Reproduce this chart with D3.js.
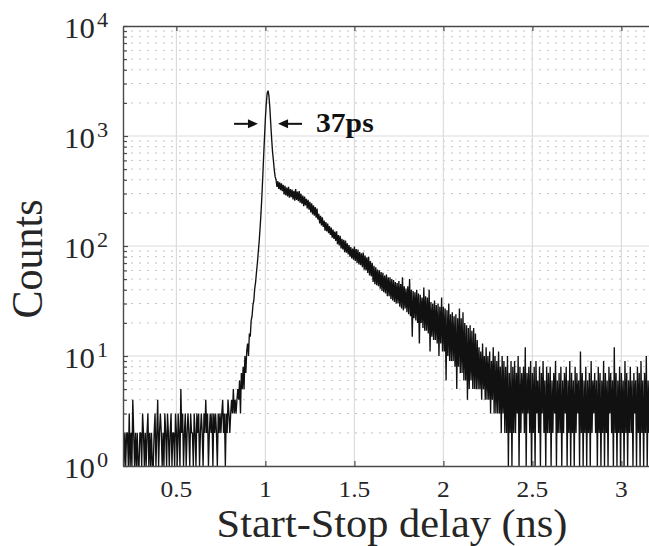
<!DOCTYPE html>
<html><head><meta charset="utf-8">
<script src="https://cdn.jsdelivr.net/npm/d3@7"></script>
<style>body{margin:0;background:#fff}svg{display:block}</style>
</head><body><svg id="c" width="649" height="546"></svg>
<script>
// ---- data (histogram counts, 5 ps bins starting at 0.2 ns) ----
const binStart = 0.2;
const binWidth = 0.005;
const countsBaseline = [
 2,1,2,1,2,2,1,3,1,2,
 1,4,2,1,2,1,2,1,1,2,
 2,1,3,2,1,2,1,2,3,1,
 2,1,2,1,1,2,3,1,2,4,
 1,2,3,2,1,2,1,3,2,1,
 3,2,1,2,3,1,2,2,1,3,
 2,1,3,2,1,5,2,3,1,2,
 3,1,2,3,2,1,3,2,2,1,
 3,2,1,3,2,3,1,2,3,2,
 1,3,2,4,2,3,1,2,3,2,
 3,1,3,2,3,2,1,3,2,3,
 2,3,4,2,3,1,3,2,4,3,
 2,3,4,3,5,3,4,3,4,5
];
const countsRise = [
 4,6,3,7,5,8,5,10,7,11,
 13,10,16,15,21,23,29,32,41,47,
 58,70,88,110,145,195,280,420,650,980,
 1450,1980,2450,2580,2300,1800,1300,950,720,600
];
const countsShoulder = [
 490,425,398,345,388,330,380,322,372,315,
 360,295,352,288,340,282,345,275,330,278,
 326,265,318,258,330,262,312,255,316,248,
 298,242,287,230,281,234,268,220,263,214,
 252,202,245,194,234,189,226,181,219,174,
 196,160,188,154,182,149,170,138,165,136,
 160,131,152,126,147,119,141,116,135,111,
 136,104,126,101,124,95,116,93,114,88,
 112,87,106,84,102,80,98,77,95,75
];
const countsDecay = [
 99,73,94,70,93,68,88,67,86,64,
 87,61,82,60,79,57,80,54,73,53,
 70,47,66,45,64,44,61,43,60,41,
 58,39,57,38,54,37,55,35,52,35,
 52,33,50,32,49,31,47,30,46,30,
 48,28,45,27,52,26,43,27,41,25,
 43,24,50,23,40,15,39,22,38,21,
 40,20,37,13,36,20,34,18,42,17,
 35,17,34,16,40,11,31,15,30,14,
 32,14,29,13,30,10,28,13,34,11,
 28,11,27,6,26,10,30,9,24,9,
 25,9,23,8,24,5,22,8,27,7,
 22,7,25,6,20,6,19,4,18,5,
 19,6,17,5,18,5,16,5,14,5
];
const countsTail = [
 12,5,11,4,13,5,10,4,12,4,
 10,4,11,3,9,4,12,3,10,3,
 9,3,11,3,8,2,10,3,9,2,
 8,2,10,1,7,2,9,1,8,2,
 9,2,7,3,10,1,8,2,7,3,
 8,2,12,1,7,3,8,2,9,1,
 7,2,8,1,9,3,6,2,8,1,
 7,3,9,2,6,1,8,2,7,2,
 8,1,6,2,7,3,9,1,6,2,
 7,2,8,1,6,2,7,3,8,1,
 6,2,9,1,7,2,6,1,8,2,
 7,3,6,1,11,2,7,1,6,2,
 8,1,6,2,7,1,9,2,6,3,
 7,2,6,1,8,2,7,1,6,2,
 9,1,7,2,6,1,8,3,7,2,
 6,1,12,2,7,1,6,2,8,1,
 7,2,6,1,9,2,7,1,6,2,
 8,2,6,1,7,3,6,1,8,2,
 7,1,9,2,6,1,7,2,10,1,
 6,2,8,1,7,2,11,1,6,2
];
const xTicks = [0.5, 1, 1.5, 2, 2.5, 3];
const xTickLabels = ["0.5", "1", "1.5", "2", "2.5", "3"];
const yDecadeExps = [0, 1, 2, 3, 4];
const xDomain = [0.2, 3.2];
const yDomain = [1, 1e4];
// annotation (data units)
const halfMax = 1290;
const arrowLeft = [0.824, 0.958];
const arrowRight = [1.206, 1.071];
const fwhmLabelX = 1.284;
const fwhmLabel = "37ps";
const xLabel = "Start-Stop delay (ns)";
const yLabel = "Counts";

// ---- drawing ----
const counts = [].concat(countsBaseline, countsRise, countsShoulder, countsDecay, countsTail);
const data = counts.map((c, i) => ({t: binStart + i * binWidth, c}));

const M = {left: 123, top: 26, bottom: 466, right: 657};
const SX = 1.06;
const FONT = "'Liberation Serif','Times New Roman',serif";
const TXT = "#262626";

const svg = d3.select("#c");
const x = d3.scaleLinear().domain(xDomain).range([M.left, M.right]);
const y = d3.scaleLog().domain(yDomain).range([M.bottom, M.top]);

svg.append("defs").append("clipPath").attr("id", "clip")
  .append("rect").attr("x", M.left).attr("y", M.top)
  .attr("width", M.right - M.left).attr("height", M.bottom - M.top);

// minor horizontal grid (dotted)
const minorY = [];
yDecadeExps.slice(0, -1).forEach(e => { for (let k = 2; k <= 9; k++) minorY.push(k * Math.pow(10, e)); });
svg.append("g").selectAll("line").data(minorY).join("line")
  .attr("x1", M.left).attr("x2", M.right)
  .attr("y1", d => y(d)).attr("y2", d => y(d))
  .attr("stroke", "#c4c4c4").attr("stroke-width", 1)
  .attr("stroke-dasharray", "2,6");

// major grid
svg.append("g").selectAll("line").data(yDecadeExps.slice(1, -1)).join("line")
  .attr("x1", M.left).attr("x2", M.right)
  .attr("y1", d => y(Math.pow(10, d))).attr("y2", d => y(Math.pow(10, d)))
  .attr("stroke", "#dcdcdc").attr("stroke-width", 1.2);
svg.append("g").selectAll("line").data(xTicks).join("line")
  .attr("x1", d => x(d)).attr("x2", d => x(d))
  .attr("y1", M.top).attr("y2", M.bottom)
  .attr("stroke", "#dcdcdc").attr("stroke-width", 1.2);

// data line
const line = d3.line().x(d => x(d.t)).y(d => y(d.c));
svg.append("path").datum(data)
  .attr("clip-path", "url(#clip)")
  .attr("d", line)
  .attr("fill", "none").attr("stroke", "#111").attr("stroke-width", 1.35)
  .attr("stroke-linejoin", "bevel");

// axes (ticks inward, no labels)
const axColor = "#4a4a4a";
function styleAxis(g) {
  g.selectAll(".domain").attr("stroke", axColor).attr("stroke-width", 1.4);
  g.selectAll(".tick line").attr("stroke", axColor).attr("stroke-width", 1.2);
  g.selectAll(".tick text").remove();
}
svg.append("g").attr("transform", `translate(0,${M.bottom})`)
  .call(d3.axisBottom(x).tickValues(xTicks).tickSize(-5).tickSizeOuter(0)).call(styleAxis);
svg.append("g").attr("transform", `translate(0,${M.top})`)
  .call(d3.axisTop(x).tickValues(xTicks).tickSize(-5).tickSizeOuter(0)).call(styleAxis);
svg.append("g").attr("transform", `translate(${M.left},0)`)
  .call(d3.axisLeft(y).tickValues(yDecadeExps.map(e => Math.pow(10, e))).tickSize(-5).tickSizeOuter(0)).call(styleAxis);
svg.append("g").attr("transform", `translate(${M.left},0)`)
  .call(d3.axisLeft(y).tickValues(minorY).tickSize(-4).tickSizeOuter(0)).call(g => {
    styleAxis(g); g.select(".domain").remove();
  });

// tick labels
svg.append("g").selectAll("text").data(xTicks).join("text")
  .attr("transform", d => `translate(${x(d)},497) scale(${SX},1)`)
  .attr("text-anchor", "middle").attr("font-family", FONT).attr("font-size", 24)
  .attr("fill", TXT).text((d, i) => xTickLabels[i]);

const yl = svg.append("g").selectAll("text").data(yDecadeExps).join("text")
  .attr("transform", d => `translate(108,${y(Math.pow(10, d)) + 12}) scale(${SX},1)`)
  .attr("text-anchor", "end").attr("font-family", FONT).attr("fill", TXT);
yl.append("tspan").attr("font-size", 29).text("10");
yl.append("tspan").attr("font-size", 21).attr("dx", 2).attr("dy", -11).text(d => d);

// axis titles
svg.append("text").attr("transform", `translate(392,537) scale(${SX},1)`)
  .attr("text-anchor", "middle").attr("font-family", FONT).attr("font-size", 40)
  .attr("fill", TXT).text(xLabel);
svg.append("text").attr("transform", `translate(41.5,259) scale(${SX},1) rotate(-90)`)
  .attr("text-anchor", "middle").attr("font-family", FONT).attr("font-size", 42)
  .attr("fill", TXT).text(yLabel);

// FWHM annotation
function arrow(from, to) {
  const ay = y(halfMax);
  const x0 = x(from), x1 = x(to);
  const dir = Math.sign(x1 - x0);
  const head = 10, hw = 4.5;
  svg.append("line").attr("x1", x0).attr("x2", x1 - dir * head)
    .attr("y1", ay).attr("y2", ay).attr("stroke", "#111").attr("stroke-width", 2);
  svg.append("path")
    .attr("d", `M${x1},${ay} L${x1 - dir * head},${ay - hw} L${x1 - dir * head},${ay + hw} Z`)
    .attr("fill", "#111");
}
arrow(arrowLeft[0], arrowLeft[1]);
arrow(arrowRight[0], arrowRight[1]);
svg.append("text").attr("transform", `translate(${x(fwhmLabelX)},${y(halfMax) + 8}) scale(${SX},1)`)
  .attr("font-family", FONT).attr("font-size", 28).attr("font-weight", "bold")
  .attr("fill", "#111").text(fwhmLabel);
</script></body></html>
